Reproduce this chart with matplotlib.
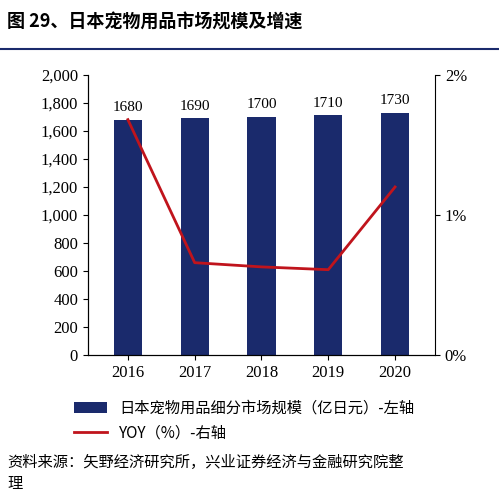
import matplotlib
matplotlib.use("Agg")
import matplotlib.pyplot as plt
from matplotlib.ticker import FuncFormatter, FixedLocator

plt.rcParams['font.family'] = ['Noto Sans CJK SC', 'DejaVu Sans']

years = ['2016', '2017', '2018', '2019', '2020']
market = [1680, 1690, 1700, 1710, 1730]
yoy = [1.68, 0.66, 0.63, 0.61, 1.20]

fig = plt.figure(figsize=(4.99, 4.92), dpi=100)
ax = fig.add_axes([0.176, 0.278, 0.696, 0.57])
x = range(len(years))
bars = ax.bar(x, market, width=0.42, color='#1a2a6c', label='日本宠物用品细分市场规模（亿日元）-左轴')
for xi, v in zip(x, market):
    ax.text(xi, v + 40, str(v), ha='center', va='bottom', fontsize=11, family='Liberation Serif')
ax.set_ylim(0, 2000)
ax.set_yticks(range(0, 2001, 200))
ax.yaxis.set_major_formatter(FuncFormatter(lambda v, p: f'{int(v):,}'))
ax.set_xticks(list(x))
ax.set_xticklabels(years)
ax.set_xlim(-0.6, 4.6)
for s in ['top', 'right']:
    ax.spines[s].set_visible(False)
ax2 = ax.twinx()
line, = ax2.plot(list(x), yoy, color='#c0141c', lw=2, label='YOY（%）-右轴')
ax2.set_ylim(0, 2)
ax2.yaxis.set_major_locator(FixedLocator([0, 1, 2]))
ax2.yaxis.set_major_formatter(FuncFormatter(lambda v, p: f'{int(v)}%'))
ax2.spines['top'].set_visible(False)
for a in (ax, ax2):
    for lab in a.get_xticklabels() + a.get_yticklabels():
        lab.set_family('Liberation Serif')
        lab.set_fontsize(12)
fig.legend([bars, line], [bars.get_label(), line.get_label()], loc='upper left',
           bbox_to_anchor=(0.12, 0.215), frameon=False, fontsize=11, handlelength=2.2)
fig.text(0.015, 0.955, '图 29、日本宠物用品市场规模及增速', fontsize=13, fontweight='bold', va='center')
fig.add_artist(plt.Line2D([0.0, 1.0], [0.9, 0.9], color='#1a2a6c', lw=1.5))
fig.text(0.015, 0.06, '资料来源：矢野经济研究所，兴业证券经济与金融研究院整', fontsize=11, va='center')
fig.text(0.015, 0.018, '理', fontsize=11, va='center')
fig.savefig('out.png', dpi=100)
